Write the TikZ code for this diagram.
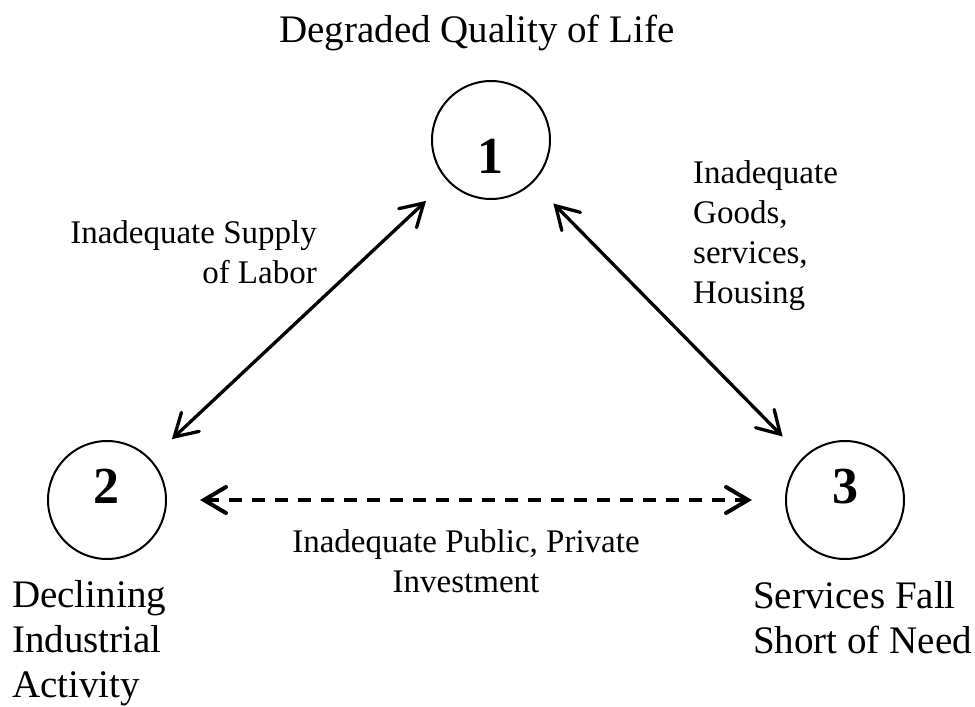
\documentclass[tikz,border=0pt]{standalone}
\usepackage{fontspec}
\setmainfont{Liberation Serif}
\usetikzlibrary{arrows.meta}
\begin{document}
\begin{tikzpicture}[x=1pt,y=-1pt,
  ring/.style={circle,draw,line width=2pt,minimum size=118pt,inner sep=0pt},
  numeral/.style={font=\fontsize{52}{52}\selectfont\bfseries,inner sep=0pt,anchor=base},
  biglabel/.style={font=\fontsize{39}{45}\selectfont,inner sep=0pt},
  edgelabel/.style={font=\fontsize{33}{40}\selectfont,inner sep=0pt},
  link/.style={line width=3.3pt,{Straight Barb[length=22pt,width=26pt,line cap=round]}-{Straight Barb[length=22pt,width=26pt,line cap=round]}},
  dlink/.style={link,line width=4pt,dash pattern=on 13pt off 10pt}]
\useasboundingbox (0,0) rectangle (975,707);
\node[ring] (c1) at (491,140) {};
\node[ring] (c2) at (107,500) {};
\node[ring] (c3) at (845,500) {};
\node[numeral] (n1) at (490,173) {1};
\node[numeral] (n2) at (106,503) {2};
\node[numeral] (n3) at (845,503) {3};
\draw[link,shorten <=29pt,shorten >=29pt] (c1) -- (c2);
\draw[link,shorten <=29pt,shorten >=29pt] (c1) -- (c3);
\draw[dlink,shorten <=33pt,shorten >=33pt] (c2) -- (c3);
\node[biglabel,anchor=base] (t1) at (477,42) {Degraded Quality of Life};
\node[biglabel,align=left,anchor=north west] (t2) at (12,580) {Declining\\Industrial\\Activity};
\node[biglabel,align=left,anchor=north west] (t3) at (753,581) {Services Fall\\Short of Need};
\node[edgelabel,align=right,anchor=north east] (e12) at (317,220.5) {Inadequate Supply\\of Labor};
\node[edgelabel,align=left,anchor=north west] (e13) at (693,160.5) {Inadequate\\Goods,\\services,\\Housing};
\node[edgelabel,align=center,anchor=north] (e23) at (466,529.5) {Inadequate Public, Private\\Investment};
\end{tikzpicture}
\end{document}
